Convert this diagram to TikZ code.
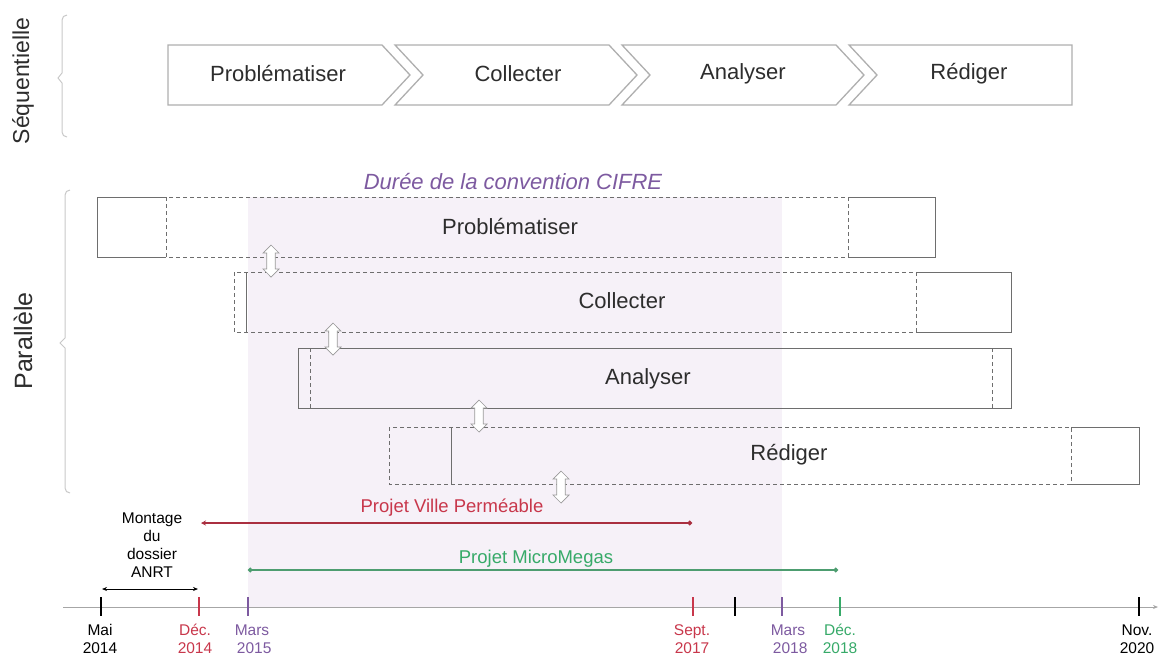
\documentclass[tikz,border=0pt]{standalone}
\usepackage{fontspec}
\setmainfont{Liberation Sans}
\usetikzlibrary{arrows.meta,shapes.arrows}
\definecolor{redc}{RGB}{200,55,75}
\definecolor{purp}{RGB}{125,90,160}
\definecolor{grn}{RGB}{55,170,105}
\definecolor{shadec}{RGB}{246,241,248}
\definecolor{boxc}{RGB}{110,110,110}
\definecolor{chevc}{RGB}{175,175,175}
\definecolor{bracec}{RGB}{200,200,200}
\definecolor{txtc}{RGB}{45,45,45}
\begin{document}
\begin{tikzpicture}[x=1pt,y=-1pt,
  lbl/.style={text=txtc,font=\fontsize{22}{26}\selectfont,inner sep=0pt},
  side/.style={text=txtc,rotate=90,inner sep=0pt},
  chev/.style={draw=chevc,line width=1.3pt,fill=white},
  solidbox/.style={draw=boxc,line width=0.8pt},
  dashbox/.style={draw=boxc,line width=0.8pt,dash pattern=on 4pt off 3pt},
  dblarr/.style={shape=double arrow,rotate=90,draw=boxc!70,fill=white,line width=0.7pt,
    minimum height=32pt,minimum width=16pt,inner sep=3.8pt,
    double arrow head extend=3.5pt},
  tlbl/.style={align=center,font=\fontsize{15.5}{18}\selectfont,inner sep=0pt},
  tick/.style={line width=1.4pt},
  proj/.style={font=\fontsize{18.5}{22}\selectfont,inner sep=0pt},
]
\useasboundingbox (0,0) rectangle (1159,657);
% shaded CIFRE duration
\fill[shadec] (248,197) rectangle (782,607);

% side labels and braces
\node[side,font=\fontsize{23}{27}\selectfont] (seq) at (23,81) {Séquentielle};
\node[side,font=\fontsize{25}{29}\selectfont] (par) at (23,341) {Parallèle};
\draw[bracec,line width=1pt] (67,15) to[out=180,in=90] (62,20) -- (62,73) -- (58,78) -- (62,83) -- (62,132) to[out=-90,in=180] (67,137);
\draw[bracec,line width=1pt] (70,190) to[out=180,in=90] (65,195) -- (65,338) -- (60,343) -- (65,348) -- (65,488) to[out=-90,in=180] (70,493);

% sequential chevrons
\draw[chev] (168,45) -- (382,45) -- (410,75) -- (382,105) -- (168,105) -- cycle;
\draw[chev] (395,45) -- (609,45) -- (637,75) -- (609,105) -- (395,105) -- (423,75) -- cycle;
\draw[chev] (622,45) -- (836,45) -- (864,75) -- (836,105) -- (622,105) -- (650,75) -- cycle;
\draw[chev] (849,45) -- (1072,45) -- (1072,105) -- (849,105) -- (877,75) -- cycle;
\node[lbl] (s1) at (278,74) {Problématiser};
\node[lbl] (s2) at (518,74) {Collecter};
\node[lbl] (s3) at (743,74) {Analyser};
\node[lbl] (s4) at (969,74) {Rédiger};

% title of shaded zone
\node[lbl,text=purp,font=\fontsize{22}{26}\selectfont\itshape] (cifre) at (513,182) {Durée de la convention CIFRE};

% parallel boxes
% Box 1
\draw[solidbox] (166,197) -- (97,197) -- (97,257) -- (166,257);
\draw[solidbox] (848,197) -- (935,197) -- (935,257) -- (848,257);
\draw[dashbox] (166,197) rectangle (848,257);
\node[lbl] (p1) at (510,227) {Problématiser};
% Box 2
\draw[solidbox] (916,272) -- (1011,272) -- (1011,332) -- (916,332);
\draw[solidbox] (246,272) -- (246,332);
\draw[dashbox] (234,272) rectangle (916,332);
\node[lbl] (p2) at (622,301) {Collecter};
% Box 3
\draw[solidbox] (298,348) rectangle (1011,408);
\draw[dashbox] (310,348) rectangle (992,408);
\node[lbl] (p3) at (648,379) {Analyser};
% Box 4
\draw[solidbox] (1071,427) -- (1139,427) -- (1139,484) -- (1071,484);
\draw[solidbox] (451,427) -- (451,484);
\draw[dashbox] (389,427) rectangle (1071,484);
\node[lbl] (p4) at (789,455) {Rédiger};

% double arrows
\node[dblarr] (d1) at (271,261) {};
\node[dblarr] (d2) at (333,339) {};
\node[dblarr] (d3) at (479,416) {};
\node[dblarr] (d4) at (561,487) {};

% timeline
\coordinate (ax0) at (63,607);
\coordinate (ax1) at (1158,607);
\draw[gray!70,line width=0.8pt,-{Stealth[length=5pt,width=4pt]}] (ax0) -- (ax1);
\foreach \x/\c/\n in {101/black/t1,199/redc/t2,248/purp/t3,693/redc/t4,735/black/t5,782/purp/t6,840/grn/t7,1139/black/t8}{
  \coordinate (\n a) at (\x,597);
  \coordinate (\n b) at (\x,616);
  \draw[tick,\c] (\n a) -- (\n b);
}
\node[tlbl] (l1) at (100,639) {Mai\\2014};
\node[tlbl,text=redc] (l2) at (195,639) {Déc.\\2014};
\node[tlbl,text=purp] (l3) at (252,639) {Mars\\ \ 2015};
\node[tlbl,text=redc] (l4) at (692,639) {Sept.\\2017};
\node[tlbl,text=purp] (l6) at (788,639) {Mars\\ \ 2018};
\node[tlbl,text=grn] (l7) at (840,639) {Déc.\\2018};
\node[tlbl] (l8) at (1137,639) {Nov.\\2020};

% Montage du dossier ANRT
\node[tlbl] (mont) at (152,545) {Montage\\du\\dossier\\ANRT};
\coordinate (m0) at (102,589);
\coordinate (m1) at (198,589);
\draw[line width=0.8pt,{Stealth[length=5pt,width=4pt]}-{Stealth[length=5pt,width=4pt]}] (m0) -- (m1);

% projects
\node[proj,text=redc] (pvp) at (452,508) {Projet Ville Perméable};
\coordinate (r0) at (201,523);
\coordinate (r1) at (692,523);
\draw[redc!85!black,line width=1.4pt,{Stealth[length=5pt,width=5pt]}-{Circle[length=4.5pt]}] (r0) -- (r1);
\node[proj,text=grn] (pmm) at (536,559) {Projet MicroMegas};
\coordinate (g0) at (248,570);
\coordinate (g1) at (838,570);
\draw[grn!70!gray,line width=1.4pt,{Circle[length=4.5pt]}-{Circle[length=4.5pt]}] (g0) -- (g1);
\end{tikzpicture}
\end{document}
